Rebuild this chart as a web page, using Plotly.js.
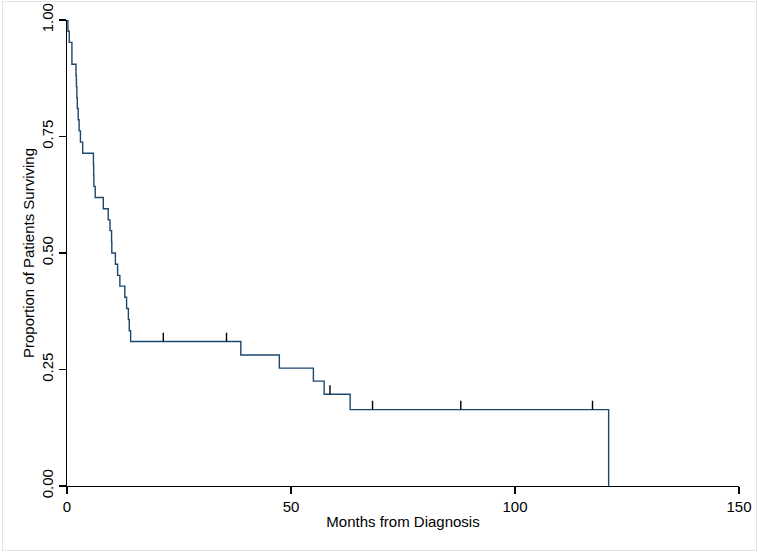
<!DOCTYPE html>
<html>
<head>
<meta charset="utf-8">
<script src="https://cdn.plot.ly/plotly-3.0.1.min.js"></script>
<style>
  html, body { margin: 0; padding: 0; background: #ffffff; }
  #wrap { position: relative; width: 759px; height: 552px; }
  #chart { width: 759px; height: 552px; }
  #frame {
    position: absolute; left: 2px; top: 1px; width: 753px; height: 548px;
    border: 1px solid #dde5e9; pointer-events: none;
  }
</style>
</head>
<body>
<div id="wrap">
  <div id="chart"></div>
  <div id="frame"></div>
</div>
<script>
// Kaplan-Meier estimate: event times (months) and survival after each step
const months = [0, 0.2, 0.5, 1.1, 2.0, 2.1, 2.2, 2.3, 2.5, 2.7, 3.0, 3.5,
  5.9, 5.95, 6.0, 6.3, 8.1, 9.2, 9.6, 9.95, 10.0, 10.8, 11.3, 11.8,
  12.9, 13.3, 13.7, 13.9, 14.2, 38.8, 47.4, 55.0, 57.4, 63.2, 120.9];
const survival = [1.000, 0.976, 0.952, 0.905, 0.881, 0.857, 0.833, 0.810, 0.786, 0.762, 0.738, 0.714,
  0.690, 0.667, 0.643, 0.619, 0.595, 0.571, 0.548, 0.524, 0.500, 0.476, 0.452, 0.429,
  0.405, 0.381, 0.357, 0.333, 0.310, 0.281, 0.253, 0.225, 0.197, 0.164, 0.000];

// Censored observations
const censorMonths = [21.5, 35.6, 58.7, 68.2, 87.9, 117.3];
const censorSurvival = [0.310, 0.310, 0.197, 0.164, 0.164, 0.164];

const xTicks = [0, 50, 100, 150];
const yTicks = [0, 0.25, 0.5, 0.75, 1];

// short upward tick for each censored case
const tickHeight = 0.019;
const cx = [], cy = [];
censorMonths.forEach((m, i) => {
  cx.push(m, m, null);
  cy.push(censorSurvival[i], censorSurvival[i] + tickHeight, null);
});

const font = { family: 'Liberation Sans, Arial, sans-serif', size: 15, color: '#000000' };

const traces = [
  {
    x: months, y: survival, type: 'scatter', mode: 'lines',
    line: { shape: 'hv', color: '#1a476f', width: 1.4 },
    hoverinfo: 'x+y', showlegend: false
  },
  {
    x: cx, y: cy, type: 'scatter', mode: 'lines',
    line: { color: '#000000', width: 1.4 },
    hoverinfo: 'skip', showlegend: false, connectgaps: false
  }
];

const layout = {
  width: 759, height: 552,
  margin: { l: 67, r: 20, t: 20, b: 66 },
  paper_bgcolor: '#ffffff', plot_bgcolor: '#ffffff',
  font: font,
  showlegend: false,
  xaxis: {
    range: [0, 150], tickvals: xTicks, ticktext: xTicks.map(String),
    showgrid: false, zeroline: false,
    showline: true, linecolor: '#000000', linewidth: 1.3,
    ticks: 'outside', ticklen: 7, tickwidth: 1.3, tickcolor: '#000000',
    tickfont: font,
    title: { text: 'Months from Diagnosis', font: font, standoff: 2 },
    automargin: false, fixedrange: true
  },
  yaxis: {
    range: [0, 1], tickvals: yTicks, ticktext: yTicks.map(v => v.toFixed(2)),
    tickangle: -90,
    showgrid: false, zeroline: false,
    showline: true, linecolor: '#000000', linewidth: 1.3,
    ticks: 'outside', ticklen: 7, tickwidth: 1.3, tickcolor: '#000000',
    tickfont: font,
    title: { text: 'Proportion of Patients Surviving', font: font, standoff: 0 },
    automargin: false, fixedrange: true
  }
};

Plotly.newPlot('chart', traces, layout, { displayModeBar: false, staticPlot: true });
</script>
</body>
</html>
